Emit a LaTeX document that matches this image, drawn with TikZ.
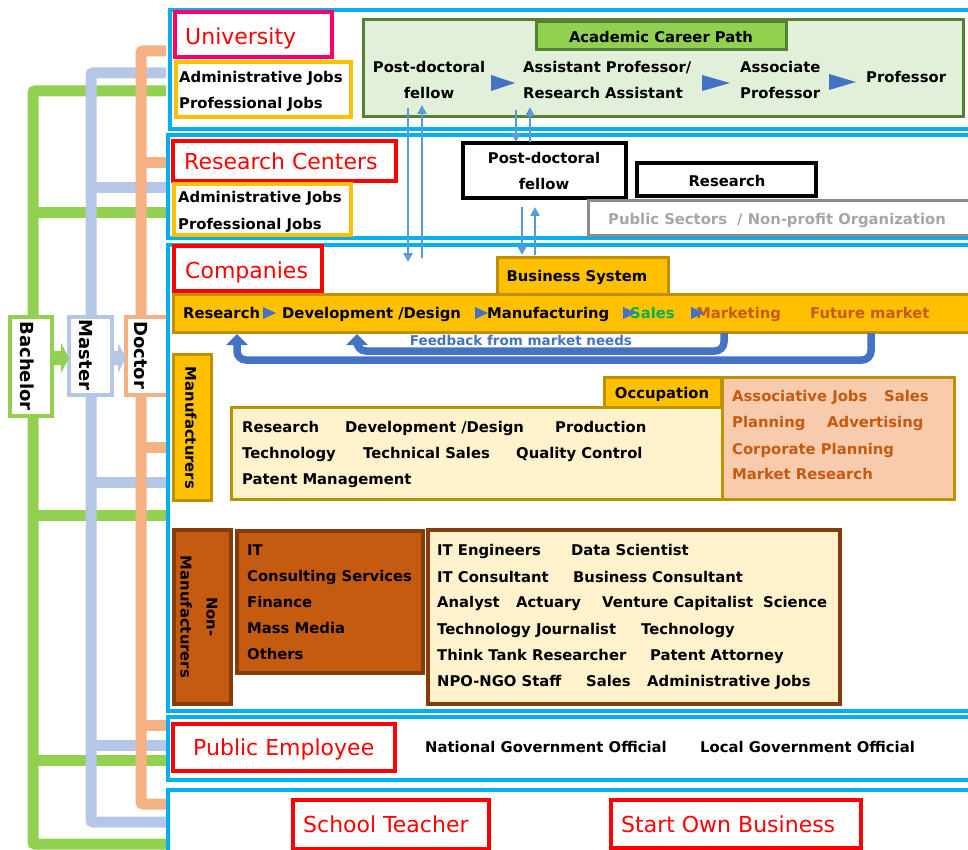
\documentclass[tikz,border=0pt]{standalone}
\usepackage{fontspec}
\setmainfont{DejaVu Sans}
\usetikzlibrary{arrows.meta}
\definecolor{cyanB}{HTML}{00B0F0}
\definecolor{grn}{HTML}{92D050}
\definecolor{lbl}{HTML}{B4C7E7}
\definecolor{sal}{HTML}{F4B183}
\definecolor{pinkR}{HTML}{FF0066}
\definecolor{gold}{HTML}{FFC000}
\definecolor{goldD}{HTML}{BF9000}
\definecolor{cream}{HTML}{FFF2CC}
\definecolor{peach}{HTML}{F8CBAD}
\definecolor{rust}{HTML}{C55A11}
\definecolor{rustD}{HTML}{843C0C}
\definecolor{dgrn}{HTML}{548235}
\definecolor{acadF}{HTML}{E2F0D9}
\definecolor{triB}{HTML}{4472C4}
\definecolor{ablue}{HTML}{5B9BD5}
\definecolor{grayT}{HTML}{A6A6A6}
\definecolor{grayB}{HTML}{8C8C8C}
\definecolor{salesG}{HTML}{00B050}
\newcommand\fbody{\bfseries\fontsize{14.8}{26}\selectfont}
\newcommand\fhead{\fontsize{22}{26}\selectfont}
\newcommand\fvert{\bfseries\fontsize{18}{24}\selectfont}
\newcommand\bx[6]{\node[bxs,#6,minimum width={#4-#2},minimum height={#5-#3}] (#1) at (#2,#3) {};}
\tikzset{
 bxs/.style={anchor=north west, inner sep=0pt, outer sep=0pt},
 frm/.style={draw=cyanB, line width=4pt},
 redb/.style={draw=red, line width=4pt, fill=white},
 goldb/.style={draw=goldD, line width=3pt, fill=gold},
 tb/.style={inner sep=0pt, anchor=base west, yshift=-5.5pt, font=\fbody},
 tc/.style={inner sep=0pt, anchor=base, yshift=-5.5pt, font=\fbody},
 th/.style={inner sep=0pt, anchor=base west, yshift=-8pt, font=\fhead, text=red},
 vt/.style={inner sep=0pt, rotate=-90},
 bar/.style={line width=11pt, rounded corners=2pt},
 thin/.style={draw=ablue, line width=2.5pt, -{Triangle[width=9pt,length=9pt]}},
 fb/.style={draw=triB, line width=7.5pt, rounded corners=9pt, -{Triangle[width=21pt,length=11pt]}},
}
\begin{document}
\begin{tikzpicture}[x=1pt,y=-1pt]
\useasboundingbox (0,0) rectangle (968,850);
% ---- degree bars
\draw[bar,draw=grn] (166,91)--(33,91)--(33,844)--(166,844);
\draw[bar,draw=grn] (33,213)--(166,213);
\draw[bar,draw=grn] (33,515)--(166,515);
\draw[bar,draw=grn] (33,760)--(166,760);
\draw[bar,draw=lbl] (166,73)--(91,73)--(91,822)--(166,822);
\draw[bar,draw=lbl] (91,188)--(166,188);
\draw[bar,draw=lbl] (91,482)--(166,482);
\draw[bar,draw=lbl] (91,745)--(166,745);
\draw[bar,draw=sal] (166,51)--(141,51)--(141,804)--(166,804);
\draw[bar,draw=sal] (141,163)--(166,163);
\draw[bar,draw=sal] (141,447)--(166,447);
\draw[bar,draw=sal] (141,725)--(166,725);
% ---- degree boxes
\bx{bach}{10}{317}{52}{416}{draw=grn,line width=4pt,fill=white}
\bx{mast}{69}{317}{112}{395}{draw=lbl,line width=4pt,fill=white}
\bx{doct}{126}{317}{168}{395}{draw=sal,line width=4pt,fill=white}
\node[vt,font=\fvert] (tbach) at (27,366) {Bachelor};
\node[vt,font=\fvert] (tmast) at (86,355) {Master};
\node[vt,font=\fvert] (tdoct) at (141,355) {Doctor};
\fill[grn] (53,351)--(61,351)--(61,343)--(69,358)--(61,373)--(61,365)--(53,365)--cycle;
\fill[lbl] (113,351)--(118,351)--(118,343)--(126,358)--(118,373)--(118,365)--(113,365)--cycle;
% ---- frames
\bx{fU}{170}{10}{990}{129}{frm}
\bx{fR}{168}{135}{990}{238}{frm}
\bx{fC}{168}{245}{990}{711}{frm}
\bx{fP}{168}{717}{990}{780}{frm}
\bx{fS}{168}{790}{990}{870}{frm}
% ---- University
\bx{univ}{175}{12}{332}{57}{draw=pinkR,line width=4pt,fill=white}
\node[th] (tuniv) at (185,37) {University};
\bx{adm1}{176}{62}{351}{117}{draw=gold,line width=3.5pt,fill=white}
\node[tb] (ta1) at (179,77) {Administrative Jobs};
\node[tb] (ta2) at (179,103) {Professional Jobs};
\bx{acad}{363}{20}{963}{117}{draw=dgrn,line width=3pt,fill=acadF}
\bx{acp}{536}{22}{786}{50}{draw=dgrn,line width=3pt,fill=grn}
\node[tc] (tacp) at (661,37) {Academic Career Path};
\node[tc] (tpd1) at (429,67) {Post-doctoral};
\node[tc] (tpd2) at (429,93) {fellow};
\node[tb] (tap1) at (523,67) {Assistant Professor/};
\node[tb] (tap2) at (523,93) {Research Assistant};
\node[tb] (tas1) at (740,67) {Associate};
\node[tb] (tas2) at (740,93) {Professor};
\node[tb] (tpr) at (866,77) {Professor};
\fill[triB] (491,75)--(515,83)--(491,91)--cycle;
\fill[triB] (702,75)--(730,83)--(702,91)--cycle;
\fill[triB] (829,74)--(856,82)--(829,90)--cycle;
% ---- Research centers
\bx{rc}{173}{141}{396}{181}{redb}
\node[th] (trc) at (184,162) {Research Centers};
\bx{adm2}{174}{184}{351}{235}{draw=gold,line width=3.5pt,fill=white}
\node[tb] (tb1) at (178,197) {Administrative Jobs};
\node[tb] (tb2) at (178,224) {Professional Jobs};
\bx{pd2}{463}{143}{626}{198}{draw=black,line width=3.5pt,fill=white}
\node[tc] (tq1) at (544,158) {Post-doctoral};
\node[tc] (tq2) at (544,184) {fellow};
\bx{res}{637}{163}{816}{196}{draw=black,line width=3.5pt,fill=white}
\node[tc] (tres) at (727,181) {Research};
\bx{pub}{588}{201}{990}{236}{draw=grayB,line width=3pt,fill=white}
\node[tb,text=grayT] (tps1) at (608,219) {Public Sectors};
\node[tb,text=grayT] (tps2) at (737,219) {/ Non-profit Organization};
% ---- Companies
\bx{comp}{174}{246}{322}{291}{redb}
\node[th] (tcomp) at (185,270) {Companies};
\bx{bsys}{497}{257}{668}{294}{goldb}
\node[tc] (tbs) at (577,276) {Business System};
\bx{bbar}{173}{294}{990}{332}{goldb}
\node[tb] (tbr1) at (183,313) {Research};
\node[tb] (tbr2) at (282,313) {Development /Design};
\node[tb] (tbr3) at (487,313) {Manufacturing};
\node[tb,text=salesG] (tbr4) at (630,313) {Sales};
\node[tb,text=rust] (tbr5) at (696,313) {Marketing};
\node[tb,text=rust] (tbr6) at (810,313) {Future market};
\fill[triB] (263,307)--(276,313)--(263,319)--cycle;
\fill[triB] (475,307)--(488,313)--(475,319)--cycle;
\fill[triB] (623,307)--(636,313)--(623,319)--cycle;
\fill[triB] (691,307)--(704,313)--(691,319)--cycle;
\coordinate (fo1) at (871,333);
\coordinate (fo2) at (871,360);
\coordinate (fo3) at (237,360);
\coordinate (fo4) at (237,334);
\coordinate (fi1) at (724,333);
\coordinate (fi2) at (724,351);
\coordinate (fi3) at (357,351);
\coordinate (fi4) at (357,334);
\draw[fb] (fo1)--(fo2)--(fo3)--(fo4);
\draw[fb] (fi1)--(fi2)--(fi3)--(fi4);
\node[tc,yshift=0.5pt,font=\bfseries\fontsize{13.5}{16}\selectfont,text=triB] (tfb) at (521,340) {Feedback from market needs};
% manufacturers
\bx{manu}{173}{354}{211}{500}{goldb}
\node[vt,font=\fbody] (tmanu) at (191,428) {Manufacturers};
\bx{occ}{604}{377}{721}{407}{goldb}
\node[tc] (tocc) at (662,393) {Occupation};
\bx{occbox}{231}{407}{722}{499}{draw=goldD,line width=3pt,fill=cream}
\bx{salbox}{722}{377}{954}{499}{draw=goldD,line width=3pt,fill=peach}
\node[tb] (to1) at (242,427) {Research};
\node[tb] (to2) at (345,427) {Development /Design};
\node[tb] (to3) at (555,427) {Production};
\node[tb] (to4) at (242,453) {Technology};
\node[tb] (to5) at (363,453) {Technical Sales};
\node[tb] (to6) at (516,453) {Quality Control};
\node[tb] (to7) at (242,479) {Patent Management};
\node[tb,text=rust] (ts1) at (732,396) {Associative Jobs};
\node[tb,text=rust] (ts2) at (884,396) {Sales};
\node[tb,text=rust] (ts3) at (732,422) {Planning};
\node[tb,text=rust] (ts4) at (827,422) {Advertising};
\node[tb,text=rust] (ts5) at (732,449) {Corporate Planning};
\node[tb,text=rust] (ts6) at (732,474) {Market Research};
% non-manufacturers
\bx{nonm}{174}{530}{231}{704}{draw=rustD,line width=3.5pt,fill=rust}
\node[vt,font=\fbody,align=center] (tnonm) at (199,617) {Non-\\Manufacturers};
\bx{ind}{237}{531}{423}{673}{draw=rustD,line width=3.5pt,fill=rust}
\node[tb] (ti1) at (247,550) {IT};
\node[tb] (ti2) at (247,576) {Consulting Services};
\node[tb] (ti3) at (247,602) {Finance};
\node[tb] (ti4) at (247,628) {Mass Media};
\node[tb] (ti5) at (247,654) {Others};
\bx{jobs}{428}{530}{840}{704}{draw=rustD,line width=3.5pt,fill=cream}
\node[tb] (tj1) at (437,550) {IT Engineers};
\node[tb] (tj2) at (571,550) {Data Scientist};
\node[tb] (tj3) at (437,577) {IT Consultant};
\node[tb] (tj4) at (573,577) {Business Consultant};
\node[tb] (tj5) at (437,602) {Analyst};
\node[tb] (tj6) at (516,602) {Actuary};
\node[tb] (tj7) at (602,602) {Venture Capitalist};
\node[tb] (tj8) at (763,602) {Science};
\node[tb] (tj9) at (437,629) {Technology Journalist};
\node[tb] (tj10) at (641,629) {Technology};
\node[tb] (tj11) at (437,655) {Think Tank Researcher};
\node[tb] (tj12) at (650,655) {Patent Attorney};
\node[tb] (tj13) at (437,681) {NPO-NGO Staff};
\node[tb] (tj14) at (586,681) {Sales};
\node[tb] (tj15) at (647,681) {Administrative Jobs};
% ---- Public employee
\bx{pe}{173}{724}{395}{771}{redb}
\node[th] (tpe) at (193,747) {Public Employee};
\node[tb] (tng) at (425,747) {National Government Official};
\node[tb] (tlg) at (700,747) {Local Government Official};
% ---- bottom
\bx{st}{293}{800}{489}{849}{redb}
\node[th] (tst) at (303,824) {School Teacher};
\bx{sob}{611}{800}{861}{848}{redb}
\node[th] (tsob) at (621,824) {Start Own Business};
% ---- thin arrows
\coordinate (a1s) at (408,108); \coordinate (a1e) at (408,262);
\coordinate (a2s) at (422,258); \coordinate (a2e) at (422,105);
\coordinate (a3s) at (516,110); \coordinate (a3e) at (516,142);
\coordinate (a4s) at (530,142); \coordinate (a4e) at (530,107);
\coordinate (a5s) at (522,207); \coordinate (a5e) at (522,255);
\coordinate (a6s) at (535,255); \coordinate (a6e) at (535,207);
\draw[thin] (a1s)--(a1e);
\draw[thin] (a2s)--(a2e);
\draw[thin] (a3s)--(a3e);
\draw[thin] (a4s)--(a4e);
\draw[thin] (a5s)--(a5e);
\draw[thin] (a6s)--(a6e);
\end{tikzpicture}
\end{document}
